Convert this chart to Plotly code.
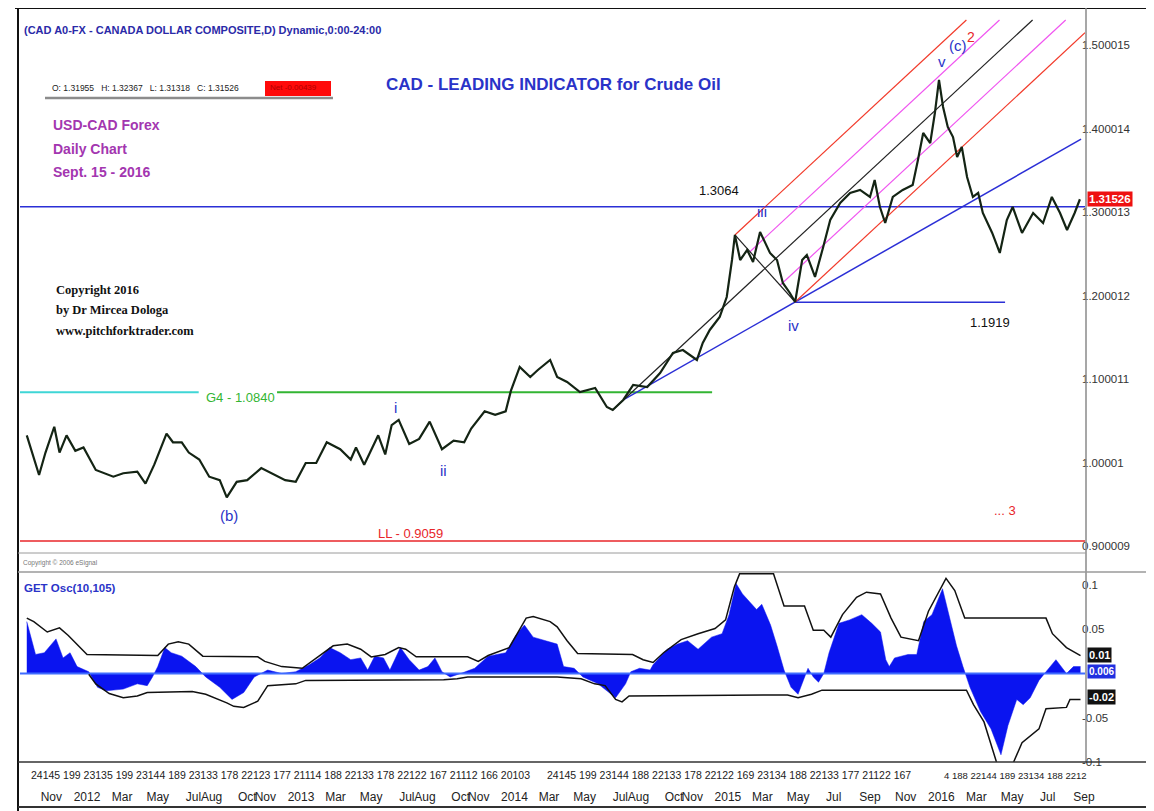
import pandas as pd
import plotly.graph_objects as go

# ---------------- data ----------------
BASE = pd.Timestamp("2012-01-01")   # day offsets below are days from this date

price_day = [-103, -82, -71, -56, -47, -35, -20, -6, 15, 45, 62, 86, 100, 115, 136, 147, 162, 174,
             192, 209, 227, 239, 256, 274, 298, 315, 339, 357, 374, 392, 410, 433, 451, 460, 474,
             498, 510, 521, 533, 551, 568, 586, 607, 627, 645, 657, 680, 698, 716, 725,
             740, 758, 771, 792, 804, 821, 843, 869, 889, 899, 917, 934, 958, 980, 1002, 1019,
             1043, 1053, 1065, 1082, 1094, 1103, 1108, 1117, 1129, 1139, 1151, 1168, 1180, 1190,
             1202, 1211, 1223, 1231, 1245, 1259, 1271, 1288, 1305, 1322, 1339, 1347, 1356, 1365,
             1378, 1395, 1412, 1421, 1430, 1442, 1450, 1457, 1464, 1472, 1481, 1488, 1496, 1505,
             1515, 1524, 1532, 1548, 1561, 1573, 1583, 1599, 1618, 1635, 1650, 1664, 1676, 1689, 1698]
price_close = [1.0325, 0.9850, 1.0119, 1.0428, 1.0119, 1.0325, 1.0139, 1.0180, 0.9911, 0.9830,
               0.9871, 0.9891, 0.9747, 0.9974, 1.0345, 1.0242, 1.0242, 1.0119, 1.0036, 0.9830,
               0.9788, 0.9582, 0.9768, 0.9788, 0.9933, 0.9871, 0.9788, 0.9768, 0.9994, 0.9994,
               1.0242, 1.0159, 1.0036, 1.0180, 0.9974, 1.0325, 1.0097, 1.0448, 1.0510, 1.0222,
               1.0283, 1.0489, 1.0159, 1.0262, 1.0242, 1.0407, 1.0613, 1.0571, 1.0613, 1.0860,
               1.1144, 1.1024, 1.1108, 1.1228, 1.1024, 1.0964, 1.0844, 1.0892, 1.0665, 1.0629,
               1.0749, 1.0928, 1.0904, 1.1072, 1.1312, 1.1347, 1.1228, 1.1431, 1.1587, 1.1743,
               1.1982, 1.2425, 1.2725, 1.2425, 1.2545, 1.2401, 1.2761, 1.2509, 1.2425, 1.2150,
               1.2030, 1.1922, 1.2425, 1.2485, 1.2222, 1.2581, 1.2904, 1.3108, 1.3228, 1.3264,
               1.3180, 1.3383, 1.3060, 1.2868, 1.3180, 1.3264, 1.3323, 1.3623, 1.3946, 1.3826,
               1.4186, 1.4581, 1.4258, 1.4018, 1.3898, 1.3659, 1.3778, 1.3419, 1.3180, 1.3228,
               1.2988, 1.2749, 1.2509, 1.2904, 1.3060, 1.2749, 1.2988, 1.2868, 1.3180, 1.2988,
               1.2784, 1.2988, 1.31526]

osc_day = [-103, -88, -73, -53, -41, -29, -17, 3, 18, 33, 62, 86, 103, 112, 121, 133, 144, 162,
           186, 203, 227, 248, 268, 286, 309, 333, 357, 380, 398, 415, 433, 451, 468, 480, 492,
           507, 518, 536, 551, 568, 583, 595, 607, 621, 639, 663, 686, 716, 733, 748, 763, 786,
           804, 815, 833, 848, 874, 904, 921, 930, 945, 963, 968, 992, 1010, 1027, 1045, 1068,
           1086, 1098, 1110, 1121, 1145, 1154, 1169, 1180, 1192, 1204, 1216, 1225, 1233, 1242,
           1251, 1260, 1269, 1286, 1304, 1325, 1342, 1357, 1366, 1372, 1381, 1404, 1419, 1431,
           1445, 1463, 1475, 1487, 1498, 1510, 1528, 1546, 1563, 1575, 1590, 1601, 1613, 1628,
           1640, 1657, 1675, 1687, 1699]
osc_val = [0.0587, 0.0215, 0.0235, 0.0391, 0.0176, 0.0235, 0.0078, 0.002, -0.0156, -0.0196,
           -0.0176, -0.0117, -0.0137, -0.0039, 0.0078, 0.0293, 0.0235, 0.0196, 0.0078, -0.0039,
           -0.0156, -0.0293, -0.0215, -0.0039, 0.0039, 0.0, 0.002, 0.0098, 0.0176, 0.0293,
           0.0235, 0.0156, 0.0176, 0.0039, 0.0196, 0.0176, 0.0039, 0.0293, 0.0156, 0.0039,
           0.0078, 0.0176, 0.002, -0.0039, 0.0, 0.0059, 0.0196, 0.0235, 0.043, 0.0547, 0.0411,
           0.0371, 0.0332, 0.0078, 0.0059, -0.0039, -0.0117, -0.0274, -0.0117, 0.002, 0.0059,
           0.0039, 0.0098, 0.0274, 0.0332, 0.0371, 0.0274, 0.0411, 0.045, 0.0665, 0.1017, 0.0899,
           0.0723, 0.0782, 0.0547, 0.0313, 0.0039, -0.0156, -0.0235, -0.0078, 0.0059, -0.0039,
           -0.0098, 0.0, 0.0235, 0.0567, 0.0606, 0.0665, 0.0567, 0.0469, 0.0156, 0.0078, 0.0176,
           0.0215, 0.0215, 0.0587, 0.0665, 0.0958, 0.0626, 0.0313, 0.0078, -0.0156, -0.043,
           -0.0626, -0.0919, -0.0587, -0.0293, -0.0352, -0.0274, -0.0078, 0.002, 0.0156, 0.0,
           0.0078, 0.0078]

band_up_day = [-103, -91, -68, -47, -32, -11, 0, 121, 139, 156, 174, 198, 292, 304, 333, 368, 404,
               421, 445, 468, 486, 510, 533, 545, 563, 651, 669, 686, 722, 751, 763, 792, 804, 821,
               839, 933, 951, 968, 986, 1016, 1045, 1074, 1092, 1107, 1116, 1174, 1192, 1227, 1242,
               1260, 1272, 1292, 1316, 1333, 1357, 1375, 1392, 1422, 1439, 1469, 1484, 1501, 1640,
               1651, 1675, 1699]
band_up = [0.0626, 0.0587, 0.0469, 0.0516, 0.043, 0.0293, 0.0215, 0.0203, 0.0332, 0.036, 0.0332,
           0.0196, 0.0188, 0.0137, 0.0078, 0.0059, 0.0235, 0.0313, 0.0332, 0.0274, 0.0188, 0.0215,
           0.0293, 0.0274, 0.0188, 0.0188, 0.0137, 0.0203, 0.0293, 0.0626, 0.0645, 0.0587, 0.0528,
           0.0371, 0.0227, 0.0215, 0.0156, 0.0125, 0.0235, 0.0383, 0.045, 0.0508, 0.0606, 0.0978,
           0.1126, 0.1126, 0.0762, 0.0762, 0.0489, 0.0489, 0.0411, 0.0665, 0.086, 0.0919, 0.0899,
           0.0626, 0.0411, 0.0371, 0.0704, 0.1075, 0.0938, 0.0626, 0.0626, 0.045, 0.0293, 0.0203]

band_lo_day = [3, 15, 38, 62, 86, 103, 180, 203, 239, 251, 268, 292, 309, 357, 374, 610, 633, 651,
               804, 845, 868, 886, 904, 915, 927, 1198, 1216, 1239, 1257, 1504, 1516, 1534, 1557,
               1581, 1599, 1628, 1640, 1675, 1681, 1699]
band_lo = [-0.0008, -0.0117, -0.0227, -0.0274, -0.0254, -0.0215, -0.0203, -0.0235, -0.0332,
           -0.0371, -0.0383, -0.0313, -0.0137, -0.0117, -0.0078, -0.007, -0.0059, -0.0039, -0.0039,
           -0.0059, -0.0117, -0.0137, -0.0293, -0.0321, -0.0254, -0.0242, -0.0274, -0.0235,
           -0.0188, -0.0188, -0.0352, -0.0547, -0.1036, -0.1056, -0.0782, -0.0626, -0.0399,
           -0.0383, -0.0293, -0.0293]

# pitchfork pivots A, B, C  and trend line pivots
pf_day = [899, 1108, 1211]
pf_price = [1.0629, 1.2725, 1.1922]
trend_day = [917, 1211]
trend_price = [1.0749, 1.1922]

level_1_3064 = 1.3064
level_1_1919 = 1.1919
level_g4 = 1.0840
level_ll = 0.9059

month_ticks = ["2011-11-01", "2012-01-01", "2012-03-01", "2012-05-01", "2012-07-01", "2012-08-01",
               "2012-10-01", "2012-11-01", "2013-01-01", "2013-03-01", "2013-05-01", "2013-07-01",
               "2013-08-01", "2013-10-01", "2013-11-01", "2014-01-01", "2014-03-01", "2014-05-01",
               "2014-07-01", "2014-08-01", "2014-10-01", "2014-11-01", "2015-01-01", "2015-03-01",
               "2015-05-01", "2015-07-01", "2015-09-01", "2015-11-01", "2016-01-01", "2016-03-01",
               "2016-05-01", "2016-07-01", "2016-09-01"]
month_text = ["Nov", "2012", "Mar", "May", "Jul", "Aug", "Oct", "Nov", "2013", "Mar", "May", "Jul",
              "Aug", "Oct", "Nov", "2014", "Mar", "May", "Jul", "Aug", "Oct", "Nov", "2015", "Mar",
              "May", "Jul", "Sep", "Nov", "2016", "Mar", "May", "Jul", "Sep"]
day_row = ["24145 199 23135 199 23144 189 23133 178 22123 177 21114 188 22133 178 22122 167 21112 166 20103",
           "24145 199 23144 188 22133 178 22122 169 23134 188 22133 177 21122 167",
           "4 188 22144 189 23134 188 2212"]

price_tick_vals = [0.900009, 1.00001, 1.100011, 1.200012, 1.300013, 1.400014, 1.500015]
price_tick_text = ["0.900009", "1.00001", "1.100011", "1.200012", "1.300013", "1.400014", "1.500015"]
osc_tick_vals = [-0.1, -0.05, 0.05, 0.1]
osc_tick_text = ["-0.1", "-0.05", "0.05", "0.1"]

# ---------------- helpers ----------------
W, H = 1154, 811
OFF = 8                        # page body margin of the html page
PL, PR, PT, PB = 20, 1085, 10, 762   # plot area in screen pixels
ML, MR, MT, MB = PL - OFF, W - (PR - OFF), PT - OFF, H - (PB - OFF)
X_START_DAY, X_END_DAY = -114.6, 1706.7
TOP_CLIP = 1.53


def d2t(days):
    return [BASE + pd.Timedelta(days=float(d)) for d in days]


def px(x):
    return (x - PL) / (PR - PL)


def py(y):
    return (PB - y) / (PB - PT)


SANS = "Liberation Sans, Arial, sans-serif"
SERIF = "Liberation Serif, Times New Roman, serif"
BLUE_T = "#2a33c8"

fig = go.Figure()


def seg(days, vals, color, width=1.3, yaxis="y"):
    fig.add_trace(go.Scatter(x=d2t(days), y=vals, mode="lines", yaxis=yaxis,
                             line=dict(color=color, width=width),
                             hoverinfo="skip", showlegend=False))


# pitchfork geometry
A = (pf_day[0], pf_price[0])
B = (pf_day[1], pf_price[1])
C = (pf_day[2], pf_price[2])
M = ((B[0] + C[0]) / 2, (B[1] + C[1]) / 2)
slope = (M[1] - A[1]) / (M[0] - A[0])


def ray(p0):
    end_d = min(X_END_DAY, p0[0] + (TOP_CLIP - p0[1]) / slope)
    return [p0[0], end_d], [p0[1], p0[1] + slope * (end_d - p0[0])]


BM = ((B[0] + M[0]) / 2, (B[1] + M[1]) / 2)
MC = ((M[0] + C[0]) / 2, (M[1] + C[1]) / 2)

# horizontal levels
seg([X_START_DAY, X_END_DAY], [level_ll] * 2, "#e8262a", 1.6)
seg([X_START_DAY, 191], [level_g4] * 2, "#3fd6d6", 2)
seg([325, 1069], [level_g4] * 2, "#33b533", 2)
seg([X_START_DAY, X_END_DAY], [level_1_3064] * 2, "#2b2fd6", 1.5)
seg([C[0], 1570], [level_1_1919] * 2, "#2b2fd6", 1.5)

# trend line
tslope = (trend_price[1] - trend_price[0]) / (trend_day[1] - trend_day[0])
t_end = 1700
seg([trend_day[0], t_end], [trend_price[0], trend_price[0] + tslope * (t_end - trend_day[0])],
    "#2b2fd6", 1.5)

# pitchfork
for p0, col in [(B, "#f23a2a"), (BM, "#f055f0"), (A, "#222222"), (MC, "#f055f0"), (C, "#f23a2a")]:
    xs, ys = ray(p0)
    seg(xs, ys, col, 1.2)
seg([B[0], C[0]], [B[1], C[1]], "#222222", 1.2)

# price
fig.add_trace(go.Scatter(x=d2t(price_day), y=price_close, mode="lines",
                         line=dict(color="#142414", width=2.2), hoverinfo="skip", showlegend=False))

# oscillator
fig.add_trace(go.Scatter(x=d2t(osc_day), y=osc_val, mode="lines", yaxis="y2", fill="tozeroy",
                         fillcolor="#0a14f0", line=dict(color="#0a14f0", width=0.5),
                         hoverinfo="skip", showlegend=False))
seg([X_START_DAY, X_END_DAY], [0, 0], "#3f6cff", 2, yaxis="y2")
seg(band_up_day, band_up, "#111111", 1.5, yaxis="y2")
seg(band_lo_day, band_lo, "#111111", 1.5, yaxis="y2")

# ---------------- annotations ----------------
anns = []


def ann(text, x, y, size, color, family=SANS, xanchor="left", yanchor="middle", bg=None,
        xref="paper", yref="paper", bold=False):
    t = f"<b>{text}</b>" if bold else text
    d = dict(text=t, x=px(x) if xref == "paper" else x, y=py(y) if yref == "paper" else y,
             xref=xref, yref=yref, showarrow=False, xanchor=xanchor, yanchor=yanchor,
             font=dict(size=size, color=color, family=family), borderpad=1)
    if bg:
        d["bgcolor"] = bg
    anns.append(d)


ann("(CAD A0-FX - CANADA DOLLAR COMPOSITE,D) Dynamic,0:00-24:00", 22, 30, 11, "#2a2aa8", bold=True)
ann("O: 1.31955&nbsp;&nbsp;&nbsp;H: 1.32367&nbsp;&nbsp;&nbsp;L: 1.31318&nbsp;&nbsp;&nbsp;C: 1.31526",
    50, 88, 8.5, "#222222")
ann("Net -0.00439", 268, 88, 8, "#b00000")
ann("CAD - LEADING INDICATOR for Crude Oil", 553, 84, 17, BLUE_T, xanchor="center", bold=True)
ann("USD-CAD Forex", 51, 125, 14, "#a336b0", bold=True)
ann("Daily Chart", 51, 149, 14, "#a336b0", bold=True)
ann("Sept. 15 - 2016", 51, 172, 14, "#a336b0", bold=True)
ann("Copyright 2016", 54, 290, 12.5, "#111111", family=SERIF, bold=True)
ann("by Dr Mircea Dologa", 54, 310, 12.5, "#111111", family=SERIF, bold=True)
ann("www.pitchforktrader.com", 54, 331, 12.5, "#111111", family=SERIF, bold=True)
ann("1.3064", 719, 190, 13, "#111111", xanchor="center")
ann("1.1919", 990, 322, 13, "#111111", xanchor="center")
ann("iii", 762, 212, 15, BLUE_T, xanchor="center")
ann("iv", 793, 325, 15, BLUE_T, xanchor="center")
ann("i", 395, 407, 15, BLUE_T, xanchor="center")
ann("ii", 443, 470, 15, BLUE_T, xanchor="center")
ann("(b)", 229, 515, 15, BLUE_T, xanchor="center")
ann("v", 942, 61, 15, BLUE_T, xanchor="center")
ann("(c)", 958, 45, 15, BLUE_T, xanchor="center")
ann("2", 971, 37, 14, "#e8262a", xanchor="center")
ann("... 3", 1005, 510, 13, "#e8262a", xanchor="center")
ann("LL - 0.9059", 410, 533, 13, "#e8262a", xanchor="center")
ann("G4 - 1.0840", 240, 397, 13, "#33b533", xanchor="center", bg="white")
ann("Copyright © 2006 eSignal", 21, 563, 6.5, "#777777")
ann("GET Osc(10,105)", 22, 588, 11.5, BLUE_T, bold=True)

# right-axis value flags
ann("1.31526", 1087, price_close[-1], 11.5, "white", bg="#ee1111", yref="y", bold=True)
ann("0.006", 1087, 0.0028, 10, "white", bg="#2030e0", yref="y2", bold=True)
ann("0.01", 1087, 0.021, 11, "white", bg="#111111", yref="y2", bold=True)
ann("-0.02", 1087, -0.0266, 11, "white", bg="#111111", yref="y2", bold=True)

# day-number row under the oscillator
ann(day_row[0], 29, 775, 10.5, "#222222")
ann(day_row[1], 545, 775, 10.5, "#222222")
ann(day_row[2], 942, 775, 9.5, "#222222")

# ---------------- frame shapes ----------------
shapes = []


def hline(y, x0, x1, color, width):
    shapes.append(dict(type="line", xref="paper", yref="paper", x0=px(x0), x1=px(x1),
                       y0=py(y), y1=py(y), line=dict(color=color, width=width)))


def vline(x, y0, y1, color, width):
    shapes.append(dict(type="line", xref="paper", yref="paper", x0=px(x), x1=px(x),
                       y0=py(y0), y1=py(y1), line=dict(color=color, width=width)))


hline(8, 15, 1154, "#111111", 2)
vline(18, 8, 811, "#111111", 2)
vline(1086, 8, 762, "#8a8a8a", 1.5)
hline(553, 18, 1086, "#9a9a9a", 1)
hline(572, 18, 1154, "#9a9a9a", 1.5)
hline(762, 18, 1154, "#333333", 1.5)
hline(807, 18, 1154, "#333333", 2)
# OHLC strip: underline shadow and red net box
hline(98, 45, 333, "#8c8c8c", 2.5)
shapes.append(dict(type="rect", xref="paper", yref="paper", x0=px(265), x1=px(331),
                   y0=py(96), y1=py(81), fillcolor="#ff0a0a", line=dict(width=0), layer="below"))

fig.update_layout(
    width=W, height=H,
    margin=dict(l=ML, r=MR, t=MT, b=MB, pad=0),
    paper_bgcolor="white", plot_bgcolor="white",
    showlegend=False, hovermode=False,
    annotations=anns, shapes=shapes,
    xaxis=dict(domain=[0, 1], anchor="y2", type="date",
               range=[BASE + pd.Timedelta(days=X_START_DAY), BASE + pd.Timedelta(days=X_END_DAY)],
               showgrid=False, zeroline=False, showline=False,
               tickmode="array", tickvals=month_ticks, ticktext=month_text,
               ticks="outside", ticklen=24, tickcolor="rgba(0,0,0,0)", tickangle=0,
               tickfont=dict(size=12, color="#222222", family=SANS)),
    yaxis=dict(domain=[py(553), 1], range=[0.8916, 1.5419], anchor="x", side="right",
               showgrid=False, zeroline=False, showline=False, ticks="", ticklabelstandoff=-4,
               tickmode="array", tickvals=price_tick_vals, ticktext=price_tick_text,
               tickfont=dict(size=11.5, color="#333333", family=SANS)),
    yaxis2=dict(domain=[0, py(572)], range=[-0.1, 0.1147], anchor="x", side="right",
                showgrid=False, zeroline=False, showline=False, ticks="", ticklabelstandoff=-4,
                tickmode="array", tickvals=osc_tick_vals, ticktext=osc_tick_text,
                tickfont=dict(size=11.5, color="#333333", family=SANS)),
)

fig.write_html("out.html")
